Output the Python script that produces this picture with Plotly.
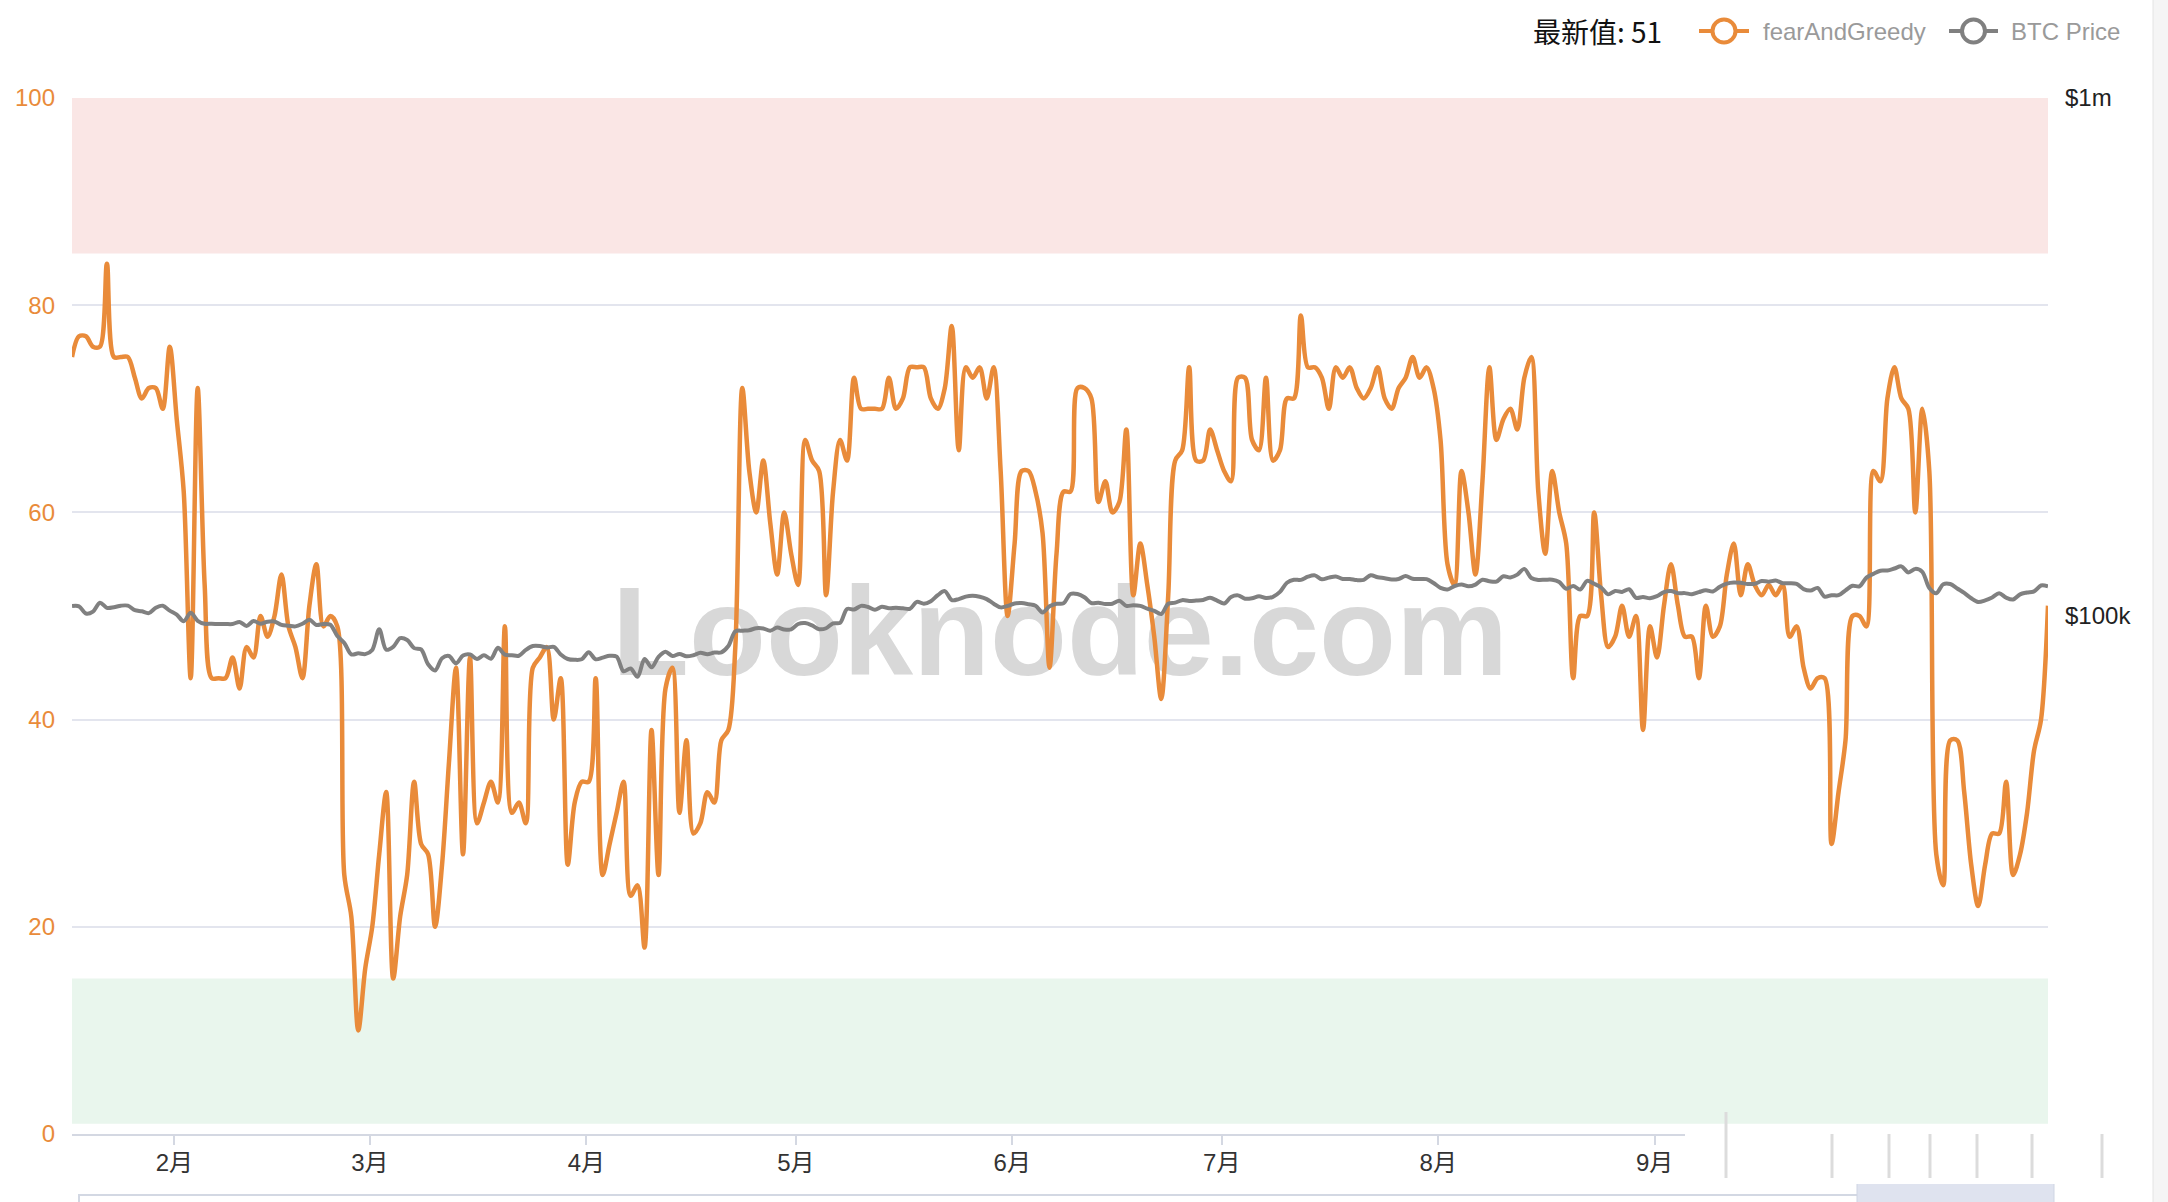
import pandas as pd
import plotly.graph_objects as go

# ---------------- data ----------------
start_date = "2025-01-17 08:00"
n_days = 284

fear_greed = [
    75, 77, 77, 76, 76, 84, 75, 75, 75, 73,
    71, 72, 72, 70, 76, 69, 62, 44, 72, 53,
    44, 44, 44, 46, 43, 47, 46, 50, 48, 50,
    54, 49, 47, 44, 51, 55, 49, 50, 49, 25,
    21, 10, 16, 20, 27, 33, 15, 21, 25, 34,
    28, 27, 20, 26, 36, 45, 27, 46, 30, 32,
    34, 32, 49, 31, 32, 30, 45, 46, 47, 40,
    44, 26, 32, 34, 34, 44, 25, 28, 31, 34,
    23, 24, 18, 39, 25, 43, 45, 31, 38, 29,
    30, 33, 32, 38, 39, 47, 72, 64, 60, 65,
    59, 54, 60, 56, 53, 67, 65, 64, 52, 62,
    67, 65, 73, 70, 70, 70, 70, 73, 70, 71,
    74, 74, 74, 71, 70, 72, 78, 66, 74, 73,
    74, 71, 74, 64, 50, 57, 64, 64, 62, 58,
    45, 56, 62, 62, 72, 72, 71, 61, 63, 60,
    61, 68, 52, 57, 53, 48, 42, 52, 65, 66,
    74, 65, 65, 68, 66, 64, 63, 73, 73, 67,
    66, 73, 65, 66, 71, 71, 79, 74, 74, 73,
    70, 74, 73, 74, 72, 71, 72, 74, 71, 70,
    72, 73, 75, 73, 74, 72, 67, 55, 53, 64,
    60, 54, 63, 74, 67, 69, 70, 68, 73, 75,
    62, 56, 64, 60, 57, 44, 50, 50, 60, 52,
    47, 48, 51, 48, 50, 39, 49, 46, 51, 55,
    51, 48, 48, 44, 51, 48, 49, 54, 57, 52,
    55, 53, 52, 53, 52, 53, 48, 49, 45, 43,
    44, 44, 28, 33, 38, 50, 50, 49, 64, 63,
    71, 74, 71, 70, 60, 70, 64, 27, 24, 38,
    38, 33, 26, 22, 26, 29, 29, 34, 25, 27,
    31, 37, 40, 51,
]

# BTC price, thousands of USD
btc_k = [
    # Jan 17-31
    104.5, 104.4, 101.1, 102.0, 106.1, 103.7, 104.0, 104.7, 104.7, 102.6, 102.1, 101.3, 103.7, 104.7, 102.4,
    # Feb
    100.6, 97.7, 101.4, 97.9, 96.6, 96.6, 96.5, 96.5, 96.5, 97.4, 95.7, 97.8, 96.6, 97.5, 97.6, 96.1,
    95.8, 95.5, 96.6, 98.3, 96.1, 96.5, 96.2, 91.5, 88.7, 84.3, 84.7, 84.4,
    # Mar
    86.0, 94.3, 86.1, 87.2, 90.6, 89.9, 86.7, 86.2, 80.7, 78.5, 82.9, 83.7, 81.0, 83.9, 84.3, 82.6,
    84.0, 82.7, 86.8, 84.2, 84.0, 83.8, 86.0, 87.5, 87.5, 86.9, 87.2, 84.3, 82.6, 82.3, 82.5,
    # Apr
    85.1, 82.5, 83.1, 83.8, 83.5, 78.2, 79.2, 76.3, 82.6, 79.6, 83.4, 85.3, 83.7, 84.5, 83.6, 84.0,
    84.9, 84.4, 85.0, 85.1, 87.5, 93.4, 93.7, 93.9, 94.7, 94.6, 93.7, 95.0, 94.2, 94.2,
    # May
    96.5, 96.9, 95.9, 94.3, 94.7, 96.8, 97.0, 103.2, 102.9, 104.6, 104.1, 102.8, 104.2, 103.5, 103.7,
    103.5, 103.2, 106.5, 105.6, 106.8, 109.7, 111.7, 107.3, 107.8, 109.0, 109.4, 108.9, 107.8, 105.6,
    103.9, 104.6,
    # Jun
    105.7, 105.9, 105.4, 104.7, 101.6, 104.4, 105.6, 105.8, 110.3, 110.3, 108.7, 105.9, 106.1, 105.5,
    105.6, 107.0, 104.6, 104.9, 104.6, 103.3, 102.3, 100.9, 105.6, 106.1, 107.3, 106.9, 107.1, 107.4,
    108.4, 107.1,
    # Jul
    105.7, 108.8, 109.6, 108.0, 108.2, 109.2, 108.3, 108.9, 111.3, 115.9, 117.5, 117.4, 119.1, 119.8,
    117.7, 118.6, 119.2, 117.9, 117.9, 117.3, 117.4, 119.9, 118.8, 118.3, 117.6, 117.9, 119.4, 118.0,
    117.9, 117.8, 115.8,
    # Aug
    113.3, 112.5, 114.2, 115.0, 114.1, 115.0, 117.5, 116.7, 116.5, 119.3, 118.7, 120.2, 123.3, 118.4,
    117.4, 117.5, 117.5, 116.3, 112.9, 114.3, 112.5, 116.9, 115.4, 113.5, 110.1, 111.8, 111.3, 112.6,
    108.4, 108.8, 108.2,
    # Sep
    109.2, 111.2, 111.7, 110.7, 110.7, 110.2, 111.2, 112.1, 111.5, 113.9, 115.5, 116.1, 115.9, 115.3,
    115.4, 116.8, 116.5, 117.1, 115.7, 115.7, 115.3, 112.7, 112.0, 113.3, 109.0, 109.7, 109.7, 112.1,
    114.4, 114.1,
    # Oct 1-27
    118.6, 120.6, 122.3, 122.4, 123.5, 124.7, 121.4, 123.3, 121.7, 113.2, 110.6, 115.2, 115.3, 113.0,
    110.8, 108.2, 106.4, 107.2, 108.6, 110.6, 108.5, 107.6, 110.1, 111.0, 111.6, 114.5, 114.1,
]

y_tick_vals = [0, 20, 40, 60, 80, 100]
price_tick_vals = [1e5, 1e6]
price_tick_text = ["$100k", "$1m"]
latest_label = "最新值: 51"
series_names = ["fearAndGreedy", "BTC Price"]
extreme_greed_band = (85, 100)
extreme_fear_band = (1, 15)

dates = pd.date_range(start_date, periods=n_days, freq="D")
btc = [v * 1000 for v in btc_k]

ORANGE = "#e98b3a"
GRAY = "#808080"
FONT = "Liberation Sans, Noto Sans CJK SC, sans-serif"

W, H = 2168, 1202
ML, MR, MT, MB = 72, 120, 98, 68
PW, PH = W - ML - MR, H - MT - MB


def px(X):  # absolute pixel x -> paper
    return (X - ML) / PW


def py(Y):  # absolute pixel y -> paper
    return (H - MB - Y) / PH


fig = go.Figure()

fig.add_trace(go.Scatter(
    x=dates, y=btc, yaxis="y2", mode="lines", name=series_names[1],
    line=dict(color=GRAY, width=4, shape="spline", smoothing=0.9),
    showlegend=False, hoverinfo="x+y",
))
fig.add_trace(go.Scatter(
    x=dates, y=fear_greed, mode="lines", name=series_names[0],
    line=dict(color=ORANGE, width=4.5, shape="spline", smoothing=0.9),
    showlegend=False, hoverinfo="x+y",
))

shapes = [
    dict(type="rect", xref="paper", yref="y", x0=0, x1=1,
         y0=extreme_greed_band[0], y1=extreme_greed_band[1],
         fillcolor="#fae6e5", line=dict(width=0), layer="below"),
    dict(type="rect", xref="paper", yref="y", x0=0, x1=1,
         y0=extreme_fear_band[0], y1=extreme_fear_band[1],
         fillcolor="#e9f6ed", line=dict(width=0), layer="below"),
    # watermark
    dict(type="rect", xref="paper", yref="paper", x0=0, x1=1, y0=0, y1=0.994,
         fillcolor="rgba(0,0,0,0)", line=dict(width=0), layer="below",
         label=dict(text="Looknode.com", textposition="middle center",
                    font=dict(size=126, color="#d8d8d8", family="Liberation Sans", weight="bold"))),
    # dataZoom slider remnants
    dict(type="rect", xref="paper", yref="paper",
         x0=px(79), x1=px(2053), y0=py(1240), y1=py(1195),
         fillcolor="rgba(0,0,0,0)", line=dict(color="#d3d8e3", width=2), layer="above"),
    dict(type="rect", xref="paper", yref="paper",
         x0=px(1857), x1=px(2054), y0=py(1240), y1=py(1182),
         fillcolor="#dfe3ef", line=dict(color="#cfd5e3", width=1), layer="above"),
    # browser scrollbar strip
    dict(type="rect", xref="paper", yref="paper",
         x0=px(2153), x1=px(2175), y0=py(1210), y1=py(-10),
         fillcolor="#f5f5f5", line=dict(color="#e4e4e4", width=1), layer="above"),
    # faded overlay at bottom right (covers axis end)
    dict(type="rect", xref="paper", yref="paper",
         x0=px(1685), x1=px(2150), y0=py(1184), y1=py(1125),
         fillcolor="#ffffff", line=dict(width=0), layer="above"),
]

# faint strokes inside the overlay
for X, y_top in [(1726, 1112), (1832, 1134), (1889, 1134), (1930, 1134), (1977, 1134), (2032, 1134), (2102, 1134)]:
    shapes.append(dict(type="line", xref="paper", yref="paper",
                       x0=px(X), x1=px(X), y0=py(1178), y1=py(y_top),
                       line=dict(color="#dcdcdc", width=3), layer="above"))

# manual legend: line + hollow circle icons
legend_items = [(series_names[0], ORANGE, 1699, 1749, 1761), (series_names[1], GRAY, 1949, 1998, 2009)]
LEG_Y = 31
annotations = [
    dict(text=latest_label, xref="paper", yref="paper", x=px(1531), y=py(LEG_Y),
         xanchor="left", yanchor="middle", showarrow=False,
         font=dict(size=28, color="#111111", family="Noto Sans CJK SC, Liberation Sans")),
]
for name, col, x0, x1, tx in legend_items:
    cx = (x0 + x1) / 2
    shapes.append(dict(type="line", xref="paper", yref="paper",
                       x0=px(x0), x1=px(x1), y0=py(LEG_Y), y1=py(LEG_Y),
                       line=dict(color=col, width=4), layer="above"))
    shapes.append(dict(type="circle", xref="paper", yref="paper",
                       x0=px(cx - 11.5), x1=px(cx + 11.5), y0=py(LEG_Y + 11.5), y1=py(LEG_Y - 11.5),
                       fillcolor="white", line=dict(color=col, width=4), layer="above"))
    annotations.append(dict(text=name, xref="paper", yref="paper", x=px(tx), y=py(LEG_Y),
                            xanchor="left", yanchor="middle", showarrow=False,
                            font=dict(size=24, color="#9a9a9a", family=FONT)))

fig.update_layout(
    width=W, height=H,
    margin=dict(l=ML, r=MR, t=MT, b=MB),
    paper_bgcolor="white", plot_bgcolor="white",
    font=dict(family=FONT, size=24, color="#333333"),
    shapes=shapes,
    annotations=annotations,
    showlegend=False,
    xaxis=dict(
        type="date",
        range=[dates[0], dates[-1]],
        tickformat="%-m月", dtick="M1", tick0="2025-02-01",
        ticks="outside", ticklen=9, tickwidth=1.5, tickcolor="#d4d8e2",
        showline=True, linecolor="#d4d8e2", linewidth=2,
        showgrid=False, zeroline=False,
        tickfont=dict(size=24, color="#333333"),
        ticklabelstandoff=-3,
    ),
    yaxis=dict(
        range=[0, 100], tickvals=y_tick_vals,
        showgrid=True, gridcolor="#e3e5ee", gridwidth=1.5,
        zeroline=False, showline=False, ticks="",
        tickfont=dict(size=24, color=ORANGE),
        ticklabelstandoff=16,
    ),
    yaxis2=dict(
        overlaying="y", side="right", type="log", range=[4, 6],
        tickvals=price_tick_vals, ticktext=price_tick_text,
        showgrid=False, zeroline=False, showline=False, ticks="",
        tickfont=dict(size=24, color="#222222"),
        ticklabelstandoff=16,
    ),
)

fig.write_html(
    "out.html",
    config={"displayModeBar": False},
    post_script="document.body.style.margin='0';document.body.style.overflow='hidden';",
)
